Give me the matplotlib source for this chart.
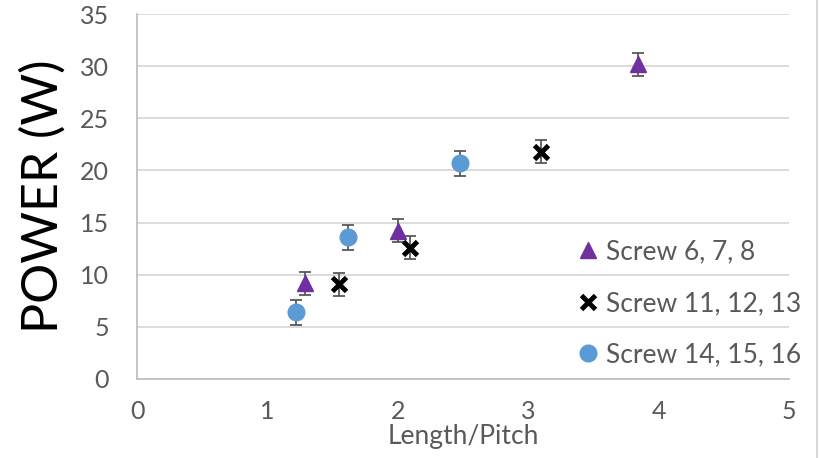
import matplotlib.pyplot as plt
from matplotlib.lines import Line2D

# values
tri_x = [1.29, 2.0, 3.84]
tri_y = [9.2, 14.2, 30.2]
tri_err = [1.1, 1.1, 1.1]

cross_x = [1.55, 2.09, 3.1]
cross_y = [9.1, 12.6, 21.8]
cross_err = [1.1, 1.1, 1.1]

dot_x = [1.22, 1.62, 2.48]
dot_y = [6.4, 13.6, 20.7]
dot_err = [1.2, 1.2, 1.2]

labels = ["Screw 6, 7, 8", "Screw 11, 12, 13", "Screw 14, 15, 16"]

plt.rcParams['font.family'] = ['Lato', 'DejaVu Sans']

fig = plt.figure(figsize=(8.19, 4.58), dpi=100)
ax = fig.add_axes([0.1673, 0.1725, 0.7961, 0.7969])

err_kw = dict(fmt='none', ecolor='#595959', elinewidth=1.3, capsize=4, capthick=1.3, zorder=3)

# error bars first, markers on top
ax.errorbar(tri_x, tri_y, yerr=tri_err, **err_kw)
ax.errorbar(cross_x, cross_y, yerr=cross_err, **err_kw)
ax.errorbar(dot_x, dot_y, yerr=dot_err, **err_kw)

ax.plot(tri_x, tri_y, ls='none', marker='^', ms=11, color='#7030A0', zorder=4)
ax.plot(cross_x, cross_y, ls='none', marker='x', ms=10, mew=3.5, color='black', zorder=4)
ax.plot(dot_x, dot_y, ls='none', marker='o', ms=12, color='#5B9BD5', zorder=4)

ax.set_xlim(0, 5)
ax.set_ylim(0, 35)
ax.set_xticks(range(0, 6))
ax.set_yticks(range(0, 36, 5))
ax.grid(axis='y', color='#d9d9d9', lw=1.3)
ax.set_axisbelow(True)

for s in ['top', 'right']:
    ax.spines[s].set_visible(False)
for s in ['left', 'bottom']:
    ax.spines[s].set_color('#bfbfbf')
    ax.spines[s].set_linewidth(1.3)

ax.tick_params(length=0, labelsize=18, labelcolor='#595959')
ax.tick_params(axis='x', pad=15)
ax.tick_params(axis='y', pad=20)

ax.set_xlabel("Length/Pitch", fontsize=19, color='#595959', labelpad=1)
ax.set_ylabel("POWER (W)", fontsize=36, color='black', labelpad=10)

handles = [
    Line2D([], [], ls='none', marker='^', ms=11, color='#7030A0'),
    Line2D([], [], ls='none', marker='x', ms=10, mew=3.5, color='black'),
    Line2D([], [], ls='none', marker='o', ms=12, color='#5B9BD5'),
]
leg = fig.legend(handles, labels, loc='upper left', bbox_to_anchor=(0.696, 0.5),
                 frameon=False, fontsize=19, labelspacing=1.0, handlelength=0.6,
                 handletextpad=0.35, borderaxespad=0)
for t in leg.get_texts():
    t.set_color('#595959')

# chart border line on the right
fig.add_artist(Line2D([0.998, 0.998], [0, 1], transform=fig.transFigure,
                      color='#d9d9d9', lw=1.5))

fig.savefig("out.png", dpi=100)
